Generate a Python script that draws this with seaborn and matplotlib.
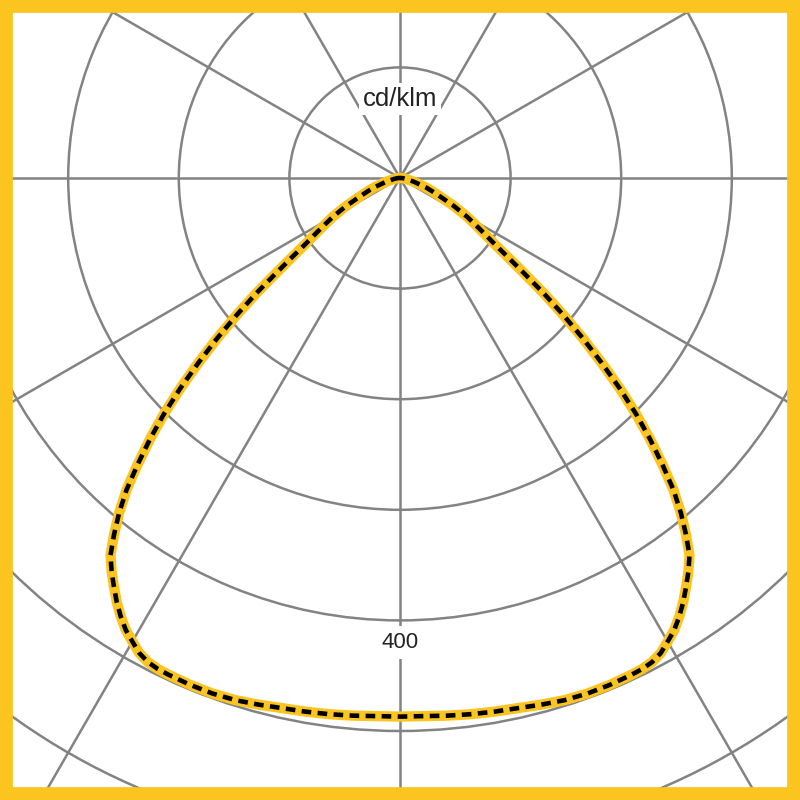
import numpy as np
import pandas as pd
import matplotlib
matplotlib.use("Agg")
import matplotlib.pyplot as plt
from matplotlib.patches import Rectangle
import seaborn as sns

# ---- data (cd/klm vs. angle from nadir, one half of a symmetric curve) ----
half_angles_deg = [0, 2.5, 5, 7.5, 10, 12.5, 15, 17.5, 20, 22.5, 25, 26.25, 27.5,
                   28.75, 30, 31.25, 32.5, 33.75, 35, 36.25, 37.5, 38.75, 40,
                   41.25, 42.5, 43.75, 45, 46.25, 47.5, 48.75, 50, 51.25, 52.5,
                   53.75, 55, 56.25, 57.5, 60, 62.5, 65, 67.5, 70, 75, 80, 85,
                   90, 180]
c0_c180 = [487, 487, 488, 489, 490, 491, 493, 495, 496, 496, 495.5, 495, 493.5,
           490, 484, 478, 470, 461, 451, 441, 430, 413, 395,
           375, 351, 327, 302, 275, 247, 220, 193, 167, 141,
           121, 105, 94, 85, 70, 55, 41, 32, 25, 13, 6, 3,
           1, 0]
c90_c270 = list(c0_c180)
radial_ticks = [100, 200, 300, 400, 500, 600]
angle_ticks_deg = list(range(0, 360, 30))
unit_label = "cd/klm"
scale_label = "400"

YELLOW = "#FCC41E"
GRID = "#838383"

sns.set_theme(style="white")
plt.rcParams["font.family"] = ["Liberation Sans", "DejaVu Sans"]


def full_curve(angles, vals):
    a = np.array(angles, dtype=float)
    v = np.array(vals, dtype=float)
    theta = np.concatenate([-a[::-1], a[1:]])
    r = np.concatenate([v[::-1], v[1:]])
    return pd.DataFrame({"theta": np.deg2rad(theta), "r": r})


fig = plt.figure(figsize=(8, 8), dpi=100)
fig.patch.set_facecolor("white")

# polar axes centred at (400,178) px, 110.6 px per 100 cd/klm
rmax = 700
rad_frac = rmax * 1.106 / 800
cx, cy = 0.5, 1 - 178 / 800
ax = fig.add_axes([cx - rad_frac, cy - rad_frac, 2 * rad_frac, 2 * rad_frac],
                  projection="polar")
ax.set_theta_zero_location("S")
ax.set_theta_direction(1)
ax.set_ylim(0, rmax)
ax.set_yticks(radial_ticks)
ax.set_xticks(np.deg2rad(angle_ticks_deg))
ax.set_xticklabels([])
ax.set_yticklabels([])
ax.grid(True, color=GRID, linewidth=1.8)
ax.spines["polar"].set_visible(False)
ax.set_facecolor("white")
ax.tick_params(length=0)

d1 = full_curve(half_angles_deg, c0_c180)
d2 = full_curve(half_angles_deg, c90_c270)
sns.lineplot(data=d1, x="theta", y="r", ax=ax, sort=False, estimator=None,
             color=YELLOW, linewidth=7.4, solid_capstyle="round",
             solid_joinstyle="round", zorder=5)
sns.lineplot(data=d2, x="theta", y="r", ax=ax, sort=False, estimator=None,
             color="black", linewidth=3.3, linestyle=(0, (2.1, 1.4)),
             dash_capstyle="butt", dash_joinstyle="round", zorder=6)
ax.set_xlabel("")
ax.set_ylabel("")

ax.text(np.pi, 71.5, unit_label, ha="center", va="center", fontsize=18.5,
        color="#222222", zorder=7,
        bbox=dict(boxstyle="square,pad=0.15", fc="white", ec="none"))
ax.text(0, 420, scale_label, ha="center", va="center", fontsize=16,
        color="#222222", zorder=7,
        bbox=dict(boxstyle="square,pad=0.25", fc="white", ec="none"))

frame = Rectangle((0, 0), 1, 1, transform=fig.transFigure, fill=False,
                  edgecolor=YELLOW, linewidth=18.5, zorder=20)
fig.patches.append(frame)

fig.savefig("out.png", dpi=100, facecolor="white")
